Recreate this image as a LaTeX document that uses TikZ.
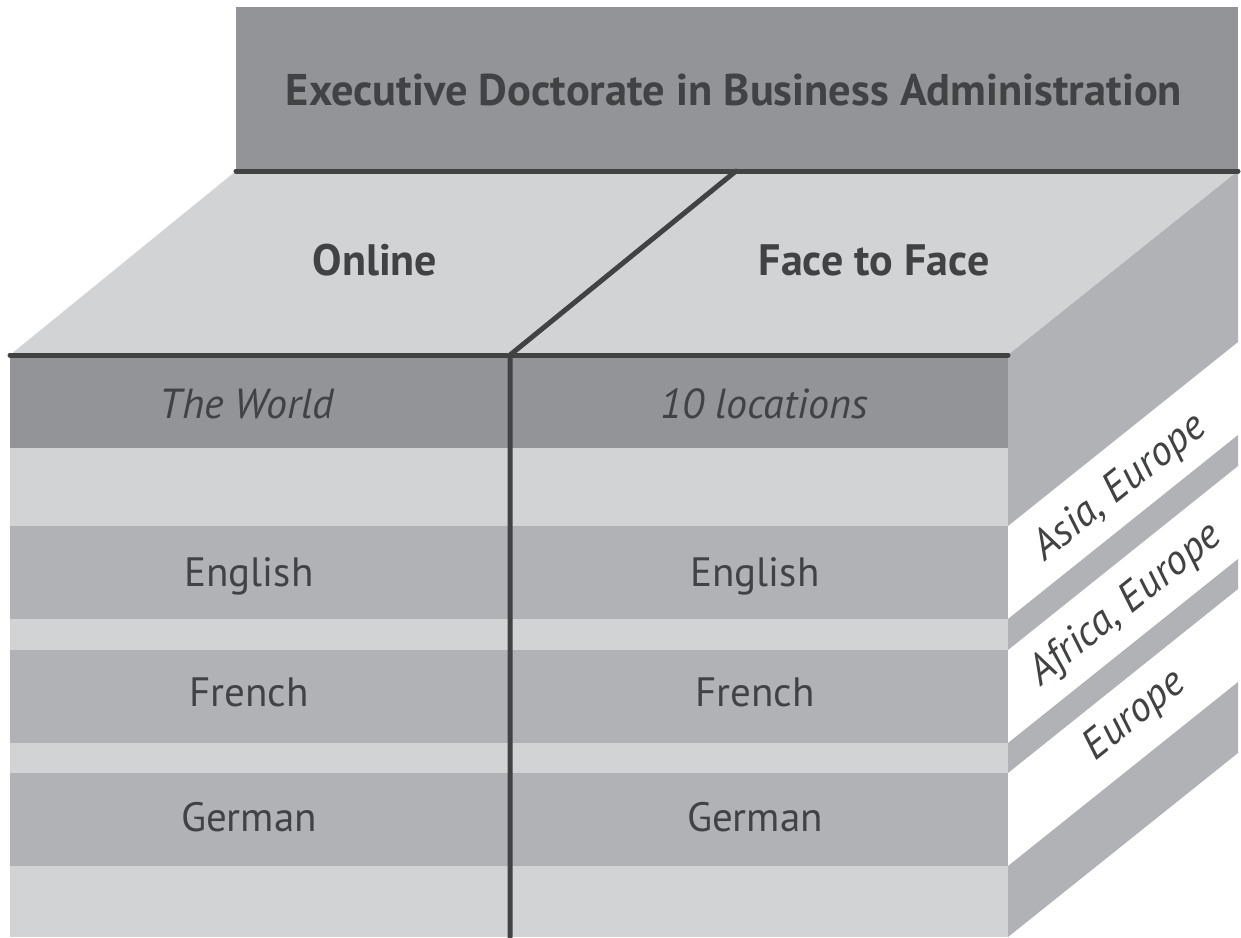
\documentclass[tikz,border=0pt]{standalone}
\usepackage{fontspec}
\setmainfont{PT Sans}
\usepackage{xcolor}
\usepackage{tikz}
\usetikzlibrary{
  positioning,
  calc
}

\definecolor{darkband}{HTML}{939497}
\definecolor{lightband}{HTML}{D2D3D5}
\definecolor{midband}{HTML}{B1B2B5}
\definecolor{ink}{HTML}{414244}

\begin{document}
\begin{tikzpicture}[x=0.5pt,y=-0.5pt,
  edge/.style={ink,line width=2.5pt,line cap=round},
  titletext/.style={text=ink,anchor=base,font=\bfseries\fontsize{22.2}{26}\selectfont},
  headtext/.style={text=ink,anchor=base,font=\bfseries\fontsize{22}{26}\selectfont},
  rowtext/.style={text=ink,anchor=base,font=\fontsize{20.5}{24}\selectfont},
  placetext/.style={text=ink,anchor=base,font=\itshape\fontsize{21}{25}\selectfont},
  sidetext/.style={text=ink,font=\itshape\fontsize{21}{25}\selectfont,rotate=38.66}]
  \useasboundingbox (0,0) rectangle (1241,937);

  \fill[darkband] (236,7) rectangle (1238,171);
  \fill[lightband] (10,355) -- (236,171) -- (1238,171) -- (1008,355) -- cycle;

  \foreach \t/\b in {355/526,619/650,743/773,866/937}
  \fill[midband] (1008,\t) -- ++(230,-184) -- ($(1008,\b)+(230,-184)$) -- (1008,\b) -- cycle;

  \foreach \t/\b/\c in {355/448/darkband,448/526/lightband,526/619/midband,619/650/lightband,
    650/743/midband,743/773/lightband,773/866/midband,866/937/lightband}
  \fill[\c] (10,\t) rectangle (1008,\b);

  \draw[edge] (236,171) -- (1238,171);
  \draw[edge] (10,355) -- (1008,355);
  \draw[edge] (736,171) -- (510,355) -- (510,937);

  \node[titletext] (title) at (734,105) {Executive Doctorate in Business Administration};
  \node[headtext] (online) at (375,275) {Online};
  \node[headtext] (facetoface) at (874,275) {Face to Face};

  \node[placetext] (world) at (247,418) {The World};
  \node[placetext] (locations) at (764,418) {10 locations};
  \foreach \y/\lang in {586/English,706/French,831/German}{
    \node[rowtext] (left\lang) at (249,\y) {\lang};
    \node[rowtext] (right\lang) at (755,\y) {\lang};
  }

  \node[sidetext] (asia) at (1120,488) {Asia, Europe};
  \node[sidetext] (africa) at (1126,605) {Africa, Europe};
  \node[sidetext] (europe) at (1135,716) {Europe};
\end{tikzpicture}
\end{document}
